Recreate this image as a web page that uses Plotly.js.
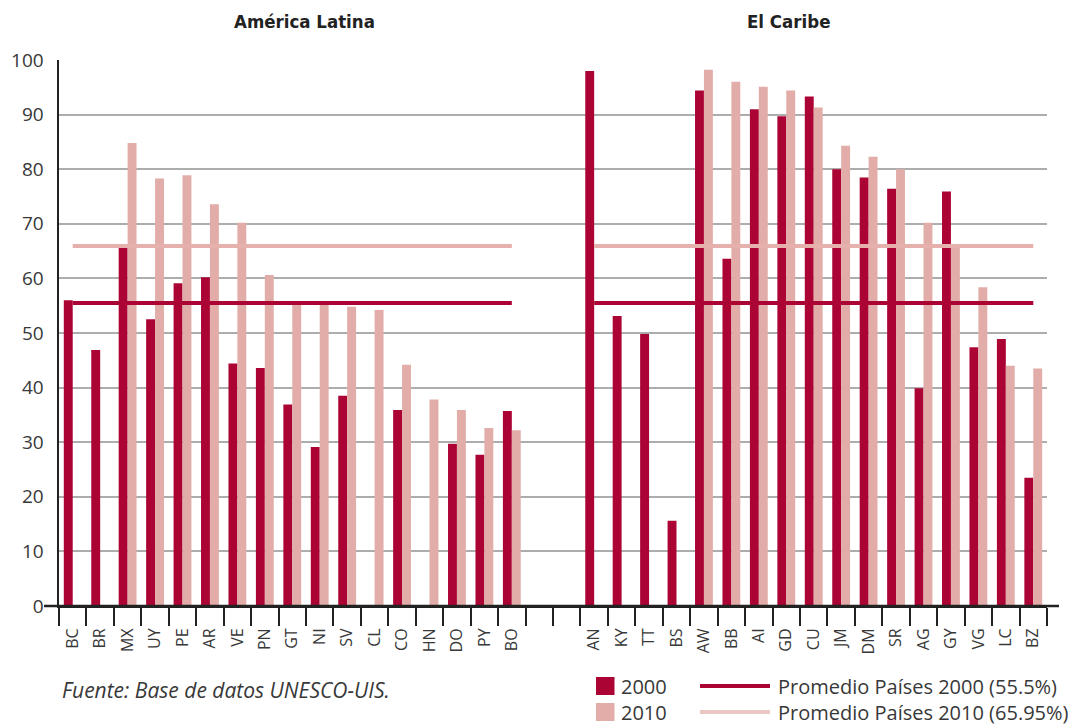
<!DOCTYPE html>
<html>
<head>
<meta charset="utf-8">
<script src="https://cdn.plot.ly/plotly-3.0.1.min.js"></script>
<style>
  html, body { margin: 0; padding: 0; background: #fff; }
  #chart { width: 1089px; height: 726px; }
</style>
</head>
<body>
<div id="chart"></div>
<script>
// ---- Data ----
var latinCats = ["BC","BR","MX","UY","PE","AR","VE","PN","GT","NI","SV","CL","CO","HN","DO","PY","BO"];
var latin2000 = [56.0, 46.9, 65.8, 52.5, 59.1, 60.2, 44.4, 43.6, 36.9, 29.1, 38.5, null, 35.9, null, 29.7, 27.7, 35.7];
var latin2010 = [null, null, 84.8, 78.3, 78.9, 73.6, 70.2, 60.6, 55.8, 55.8, 54.8, 54.2, 44.2, 37.8, 35.9, 32.6, 32.2];

var gapCats = [" ", "  "];

var caribeCats = ["AN","KY","TT","BS","AW","BB","AI","GD","CU","JM","DM","SR","AG","GY","VG","LC","BZ"];
var caribe2000 = [98.0, 53.1, 49.8, 15.6, 94.4, 63.6, 91.0, 89.7, 93.3, 80.0, 78.5, 76.4, 39.9, 75.9, 47.4, 48.9, 23.5];
var caribe2010 = [null, null, null, null, 98.2, 96.0, 95.1, 94.4, 91.3, 84.3, 82.3, 80.0, 70.2, 66.0, 58.4, 44.0, 43.5];

var avg2000 = 55.5;
var avg2010 = 65.95;

var groupTitles = ["América Latina", "El Caribe"];
var seriesNames = ["2000", "2010"];
var avgNames = ["Promedio Países 2000 (55.5%)", "Promedio Países 2010 (65.95%)"];
var sourceNote = "Fuente: Base de datos UNESCO-UIS.";

// ---- Build ----
var allCats = latinCats.concat(gapCats, caribeCats);
var gapNulls = gapCats.map(function(){ return null; });
var y2000 = latin2000.concat(gapNulls, caribe2000);
var y2010 = latin2010.concat(gapNulls, caribe2010);

var DARK = "#AC0335";
var LIGHT = "#E2ADA8";
var LIGHTLINE = "#E6B1AD";
var TXT = "#383838";
var FONT = "Open Sans, Liberation Sans, sans-serif";
var TFONT = "DejaVu Sans Condensed, Liberation Sans Narrow, sans-serif";

function avgLine(v) {
  return {
    x: [latinCats[0], latinCats[latinCats.length-1], null, caribeCats[0], caribeCats[caribeCats.length-1]],
    y: [v, v, null, v, v]
  };
}
var a0 = avgLine(avg2000), a1 = avgLine(avg2010);

var traces = [
  {type: "bar", name: seriesNames[0], x: allCats, y: y2000, marker: {color: DARK}, showlegend: false, hoverinfo: "x+y+name"},
  {type: "bar", name: seriesNames[1], x: allCats, y: y2010, marker: {color: LIGHT}, showlegend: false, hoverinfo: "x+y+name"},
  {type: "scatter", mode: "lines", name: avgNames[1], x: a1.x, y: a1.y, connectgaps: false,
   line: {color: LIGHTLINE, width: 4}, showlegend: false, hoverinfo: "skip"},
  {type: "scatter", mode: "lines", name: avgNames[0], x: a0.x, y: a0.y, connectgaps: false,
   line: {color: DARK, width: 4}, showlegend: false, hoverinfo: "skip"}
];

// plot area geometry helpers (pixels -> paper)
var L = 59, R = 42, T = 60, B = 120, W = 1089, H = 726;
var PW = W - L - R, PH = H - T - B;
function px(x) { return (x - L) / PW; }
function py(y) { return (H - B - y) / PH; }

var ROW1 = 686, ROW2 = 712;

var shapes = [
  // extended x-axis baseline
  {type: "line", xref: "paper", yref: "paper", x0: px(44), x1: px(1059), y0: 0, y1: 0,
   line: {color: "#222", width: 2.5}, layer: "above"},
  // legend: squares
  {type: "rect", xref: "paper", yref: "paper", x0: px(596), x1: px(614.5), y0: py(ROW1 + 9), y1: py(ROW1 - 9),
   fillcolor: DARK, line: {width: 0}},
  {type: "rect", xref: "paper", yref: "paper", x0: px(596), x1: px(614.5), y0: py(ROW2 + 9), y1: py(ROW2 - 9),
   fillcolor: LIGHT, line: {width: 0}},
  // legend: lines
  {type: "line", xref: "paper", yref: "paper", x0: px(700), x1: px(770), y0: py(ROW1), y1: py(ROW1),
   line: {color: DARK, width: 4}},
  {type: "line", xref: "paper", yref: "paper", x0: px(700), x1: px(770), y0: py(ROW2), y1: py(ROW2),
   line: {color: "#ECC6C3", width: 4}}
];

function legText(x, y, t) {
  return {xref: "paper", yref: "paper", x: px(x), y: py(y), xanchor: "left", yanchor: "middle",
          text: t, showarrow: false, borderpad: 0, font: {family: FONT, size: 20, color: TXT}};
}

var annotations = [
  {xref: "paper", yref: "paper", x: px(304.6), y: py(21.5), xanchor: "center", yanchor: "middle",
   text: "<b>" + groupTitles[0] + "</b>", showarrow: false,
   font: {family: TFONT, size: 18.5, color: "#222"}},
  {xref: "paper", yref: "paper", x: px(788), y: py(21.5), xanchor: "center", yanchor: "middle",
   text: "<b>" + groupTitles[1] + "</b>", showarrow: false,
   font: {family: TFONT, size: 18.5, color: "#222"}},
  {xref: "paper", yref: "paper", x: px(60), y: py(690.5), xanchor: "left", yanchor: "middle",
   text: "<i>" + sourceNote + "</i>", showarrow: false,
   font: {family: FONT, size: 21, color: TXT}},
  legText(620, ROW1, seriesNames[0]),
  legText(620, ROW2, seriesNames[1]),
  legText(777, ROW1, avgNames[0]),
  legText(777, ROW2, avgNames[1])
];

var layout = {
  width: W, height: H,
  margin: {l: L, r: R, t: T, b: B, pad: 0},
  paper_bgcolor: "#fff", plot_bgcolor: "#fff",
  barmode: "group", bargap: 0.35, bargroupgap: 0,
  showlegend: false,
  font: {family: FONT, color: TXT},
  xaxis: {
    type: "category", categoryorder: "array", categoryarray: allCats,
    range: [-0.5, allCats.length - 0.5],
    tickson: "boundaries", ticks: "outside", ticklen: 18, tickwidth: 2, tickcolor: "#222",
    tickangle: -90, ticklabelstandoff: 14,
    tickfont: {family: FONT, size: 16, color: TXT},
    showgrid: false, showline: true, linecolor: "#222", linewidth: 2,
    zeroline: false, fixedrange: true
  },
  yaxis: {
    range: [0, 100], tickvals: [0,10,20,30,40,50,60,70,80,90,100],
    ticks: "", ticklabelstandoff: 9,
    tickfont: {family: FONT, size: 19, color: TXT},
    showgrid: true, gridcolor: "#ADADAD", gridwidth: 2,
    showline: true, linecolor: "#222", linewidth: 2.5,
    zeroline: false, fixedrange: true
  },
  shapes: shapes,
  annotations: annotations
};

Plotly.newPlot("chart", traces, layout, {displayModeBar: false, staticPlot: true});
</script>
</body>
</html>
